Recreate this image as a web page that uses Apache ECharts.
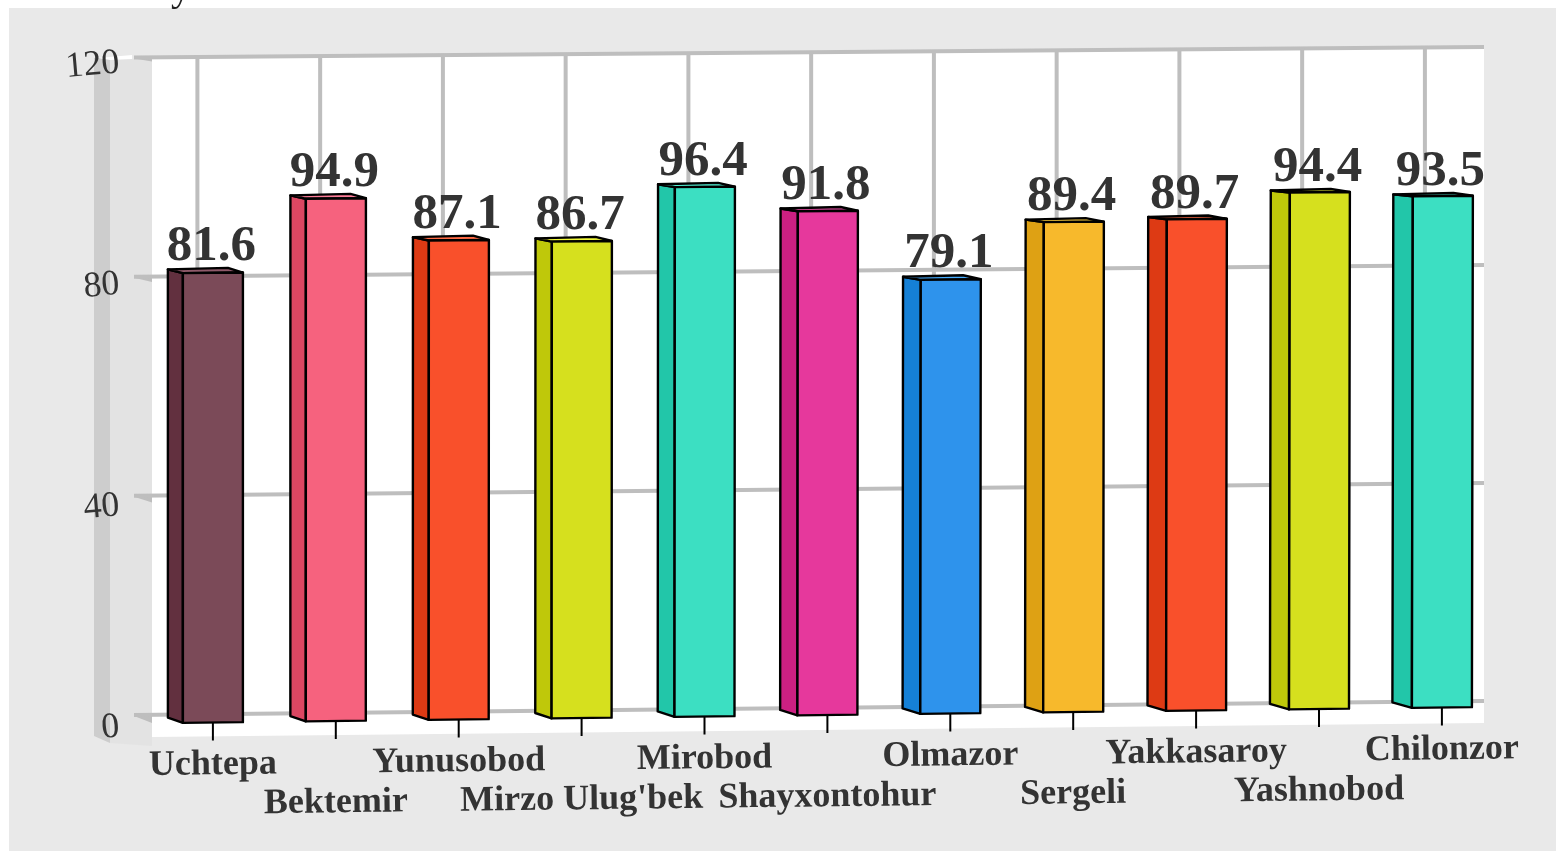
<!DOCTYPE html>
<html>
<head>
<meta charset="utf-8">
<style>html,body{margin:0;padding:0;background:#fff}#c{width:1556px;height:851px}</style>
<script src="https://cdn.jsdelivr.net/npm/echarts@6/dist/echarts.min.js"></script>
</head>
<body>
<div id="c"></div>
<script>
const categories = ['Uchtepa','Bektemir','Yunusobod','Mirzo Ulug\'bek','Mirobod','Shayxontohur','Olmazor','Sergeli','Yakkasaroy','Yashnobod','Chilonzor'];
const values = [81.6,94.9,87.1,86.7,96.4,91.8,79.1,89.4,89.7,94.4,93.5];
const yTicks = [0,40,80,120];
const frontColors = ['#7b4a58','#f6627e','#f9502b','#d6e01e','#3cdfc2','#e6389c','#2e93ec','#f7b92c','#f9502b','#d6e01e','#3cdfc2'];
const sideColors  = ['#62303f','#dc4762','#dd3a14','#bfc80a','#22c6a9','#cc2082','#1580d6','#dea114','#dd3a14','#bfc80a','#22c6a9'];
const topColors   = ['#8f5a6a','#ff7d99','#ff6b45','#f0f83a','#55f8da','#ff55b5','#48aeff','#ffd03f','#ff6b45','#f0f83a','#55f8da'];

const SERIF = '"Liberation Serif", "Times New Roman", serif';
const GRID = {left:151.45, top:63, width:1351.9, height:664};
const AXIS_Y = GRID.top + GRID.height;
const LINE = '#bebebe';

// perspective mapping of the flat axis pixels onto the tilted planes
function backPlane(px, py){
  const u = (px-134)/1350, h = AXIS_Y-py;
  return [px, 715-14*u-h*(5.479-0.029*u)/5.533];
}
function frontPlane(px, py){
  const u = (px-213)/1230, h = AXIS_Y-py;
  return [px+1*u*h/550, 722.5-15*u-h*(5.51-0.04*u)/5.533];
}
function rearPlane(px, py){
  const u = (px-213)/1230, h = AXIS_Y-py;
  return [px+1*u*h/550, 717-15.3*u-h*(5.49-0.06*u)/5.533];
}

function renderHLine(params, api){
  const py = api.coord([0, api.value(1)])[1];
  const a = backPlane(134, py), b = backPlane(1484, py);
  const v = api.value(1), d = 4+(1-v/120)*4;
  return {type:'group', children:[
    {type:'polygon', shape:{points:[[134,a[1]+1],[152,a[1]+d],[152,a[1]+1]]}, style:{fill:LINE}},
    {type:'line', shape:{x1:a[0],y1:a[1],x2:b[0],y2:b[1]}, style:{stroke:LINE, lineWidth:4}}
  ]};
}
function renderVLine(params, api){
  const i = api.value(0);
  const c0 = api.coord([i,0]), c1 = api.coord([i,120]);
  const x = c0[0]-15.5+(c0[0]-213)/1230*-1.5;
  const a = backPlane(x, c0[1]), b = backPlane(x, c1[1]);
  return {type:'line', shape:{x1:x,y1:a[1],x2:x,y2:b[1]}, style:{stroke:LINE, lineWidth:4}};
}
function renderBar(params, api){
  const i = api.value(0), v = api.value(1);
  const c0 = api.coord([i,0]), c1 = api.coord([i,v]);
  const hw = 30, depth = 15+4.5*(c0[0]-213)/1230;
  const L = c0[0]-hw, R = c0[0]+hw;
  const fl0 = frontPlane(L,c0[1]), fr0 = frontPlane(R,c0[1]);
  const fl1 = frontPlane(L,c1[1]), fr1 = frontPlane(R,c1[1]);
  const rl0 = rearPlane(L-depth,c0[1]), rl1 = rearPlane(L-depth,c1[1]);
  const rr1 = rearPlane(R-depth,c1[1]);
  rr1[1] -= 1;
  const border = {stroke:'#000', lineWidth:2.4, lineJoin:'round'};
  const m0 = frontPlane(c0[0],c0[1]);
  return {type:'group', children:[
    {type:'polygon', shape:{points:[rl0,rl1,fl1,fl0]}, style:Object.assign({fill:sideColors[i]},border)},
    {type:'polygon', shape:{points:[rl1,rr1,fr1,fl1]}, style:Object.assign({fill:topColors[i]},border)},
    {type:'polygon', shape:{points:[fl0,fl1,fr1,fr0]}, style:Object.assign({fill:frontColors[i]},border)},
    {type:'line', shape:{x1:m0[0],y1:m0[1],x2:m0[0],y2:m0[1]+18}, style:{stroke:'#000', lineWidth:2}},
    {type:'text', style:{x:c0[0]-1.5, y:rl1[1]+3, text:v.toFixed(1), align:'center', verticalAlign:'bottom',
      font:'bold 51px '+SERIF, fill:'#333'}}
  ]};
}
function renderCatLabel(params, api){
  const i = api.value(0);
  const c0 = api.coord([i,0]);
  return {type:'text', x:c0[0], y:765-1.5*i+(i%2?39.5:0), rotation:0.012,
    style:{x:0, y:0, text:categories[i], align:'center', verticalAlign:'middle',
      font:'bold 36px '+SERIF, fill:'#333'}};
}

const chart = echarts.init(document.getElementById('c'), null, {renderer:'canvas'});
chart.setOption({
  animation:false,
  backgroundColor:'#fff',
  title:{text:'y', left:166, top:-36, textStyle:{fontFamily:SERIF, fontSize:40, fontWeight:'normal', color:'#222'}},
  graphic:[
    {type:'rect', z:-10, silent:true, shape:{x:9,y:8,width:1547,height:843}, style:{fill:'#e9e9e9'}},
    {type:'polygon', z:-9, silent:true, shape:{points:[[110,58],[152,60],[152,746],[110,743]]}, style:{fill:'#e3e3e3'}},
    {type:'polygon', z:-9, silent:true, shape:{points:[[94,58],[110,58],[110,743],[94,736]]}, style:{fill:'#cdcdcd'}},
    {type:'polygon', z:-9, silent:true, shape:{points:[[98,58],[132,55],[132,59],[110,60]]}, style:{fill:'#fff'}},
    {type:'polygon', z:-8, silent:true, shape:{points:[[152,59],[1484,47],[1484,723],[152,737]]}, style:{fill:'#fff'}}
  ],
  grid:Object.assign({containLabel:false}, GRID),
  xAxis:{type:'category', data:categories,
    axisLine:{show:false}, axisTick:{show:false}, splitLine:{show:false}, axisLabel:{show:false}},
  yAxis:{type:'value', min:0, max:120, interval:40,
    axisLine:{show:false}, axisTick:{show:false}, splitLine:{show:false},
    axisLabel:{margin:32, rotate:5, align:'right', verticalAlign:'middle',
      fontFamily:SERIF, fontSize:36, color:'#333'}},
  series:[
    {type:'custom', name:'hgrid', z:1, silent:true, clip:false, renderItem:renderHLine, encode:{x:0,y:1},
      data:yTicks.map(v=>[0,v])},
    {type:'custom', name:'vgrid', z:1, silent:true, clip:false, renderItem:renderVLine, encode:{x:0,y:1},
      data:categories.map((c,i)=>[i,0])},
    {type:'custom', name:'bars', z:3, silent:true, clip:false, renderItem:renderBar, encode:{x:0,y:1},
      data:values.map((v,i)=>[i,v])},
    {type:'custom', name:'categoryLabels', z:4, silent:true, clip:false, renderItem:renderCatLabel, encode:{x:0,y:1},
      data:categories.map((c,i)=>[i,0])}
  ]
});
</script>
</body>
</html>
